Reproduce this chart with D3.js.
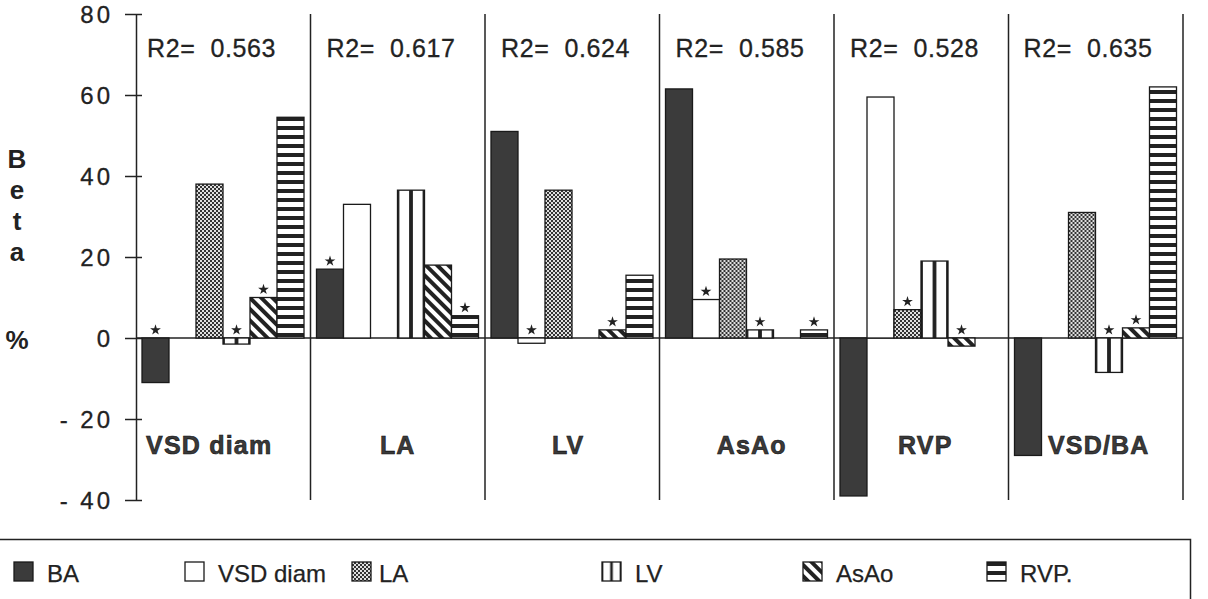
<!DOCTYPE html>
<html>
<head>
<meta charset="utf-8">
<script src="https://cdn.jsdelivr.net/npm/d3@7"></script>
<style>
  body { margin: 0; background: #fff; }
  svg { display: block; font-family: "Liberation Sans", Arial, sans-serif; }
</style>
</head>
<body>
<svg id="chart" width="1208" height="599"></svg>
<script>
// dependent variable of each regression (one panel each)
var groups = ["VSD diam", "LA", "LV", "AsAo", "RVP", "VSD/BA"];
var r2 = ["0.563", "0.617", "0.624", "0.585", "0.528", "0.635"];
// predictors (bars inside each panel)
var series = ["BA", "VSD diam", "LA", "LV", "AsAo", "RVP"];

// beta % per panel, in series order; null = not in the model
var betaVSDdiam = [-11, null, 38, -1.5, 10, 54.5];
var betaLA      = [17, 33, null, 36.5, 18, 5.5];
var betaLV      = [51, -1.3, 36.5, null, 2, 15.5];
var betaAsAo    = [61.5, 9.5, 19.5, 2, null, 2];
var betaRVP     = [-39, 59.5, 7, 19, -2, null];
var betaVSDBA   = [-29, null, 31, -8.5, 2.5, 62];
var betas = [betaVSDdiam, betaLA, betaLV, betaAsAo, betaRVP, betaVSDBA];

// starred coefficients, in series order
var starVSDdiam = [1, 0, 0, 1, 1, 0];
var starLA      = [1, 0, 0, 0, 0, 1];
var starLV      = [0, 1, 0, 0, 1, 0];
var starAsAo    = [0, 1, 0, 1, 0, 1];
var starRVP     = [0, 0, 1, 0, 1, 0];
var starVSDBA   = [0, 0, 0, 1, 1, 0];
var stars = [starVSDdiam, starLA, starLV, starAsAo, starRVP, starVSDBA];

var yTicks = [80, 60, 40, 20, 0, -20, -40];

// layout
var labelShift = [-14, 0, -4, 5, 4, 3];
var r2Left = [11, 16, 16, 16, 16, 15];
var svg = d3.select("#chart");

var y = d3.scaleLinear().domain([-40, 80]).range([500, 14]);
var x = d3.scaleBand().domain(groups).range([136, 1183]);
var xs = d3.scaleBand().domain(series).range([6, 168]);

var fills = {
  "BA": "#3b3b3b",
  "VSD diam": "#fff",
  "LA": "url(#pLA)",
  "LV": "url(#pLV)",
  "AsAo": "url(#pAsAo)",
  "RVP": "url(#pRVP)"
};

var defs = svg.append("defs");
var p = defs.append("pattern").attr("id", "pLA").attr("patternUnits", "userSpaceOnUse")
  .attr("width", 4).attr("height", 4);
p.append("rect").attr("width", 4).attr("height", 4).attr("fill", "#333");
p.append("rect").attr("width", 2).attr("height", 2).attr("fill", "#e0e0e0");
p.append("rect").attr("x", 2).attr("y", 2).attr("width", 2).attr("height", 2).attr("fill", "#e0e0e0");

// vertical stripes: edges + one in the middle of each bar
p = defs.append("pattern").attr("id", "pLV").attr("patternUnits", "objectBoundingBox")
  .attr("patternContentUnits", "objectBoundingBox").attr("width", 0.5).attr("height", 1);
p.append("rect").attr("width", 0.5).attr("height", 1).attr("fill", "#fff");
p.append("rect").attr("width", 0.07).attr("height", 1).attr("fill", "#222");
p.append("rect").attr("x", 0.43).attr("width", 0.07).attr("height", 1).attr("fill", "#222");

p = defs.append("pattern").attr("id", "pAsAo").attr("patternUnits", "userSpaceOnUse")
  .attr("width", 8).attr("height", 8).attr("patternTransform", "rotate(45)");
p.append("rect").attr("width", 8).attr("height", 8).attr("fill", "#fff");
p.append("rect").attr("width", 8).attr("height", 4).attr("fill", "#222");

p = defs.append("pattern").attr("id", "pRVP").attr("patternUnits", "userSpaceOnUse")
  .attr("width", 8).attr("height", 9);
p.append("rect").attr("width", 8).attr("height", 9).attr("fill", "#fff");
p.append("rect").attr("width", 8).attr("height", 4).attr("fill", "#222");

// y axis
var yAxis = d3.axisLeft(y).tickValues(yTicks).tickSize(0).tickPadding(0);
var ga = svg.append("g").attr("transform", "translate(136,0)").call(yAxis);
ga.select(".domain").attr("stroke", "#222").attr("stroke-width", 1.5);
ga.selectAll(".tick line").attr("x1", -11).attr("x2", 6).attr("stroke", "#222").attr("stroke-width", 1.5);
ga.selectAll(".tick text").attr("x", -23).attr("dy", "0.36em")
  .attr("font-size", 24).attr("fill", "#222").attr("letter-spacing", 3)
  .attr("stroke", "#222").attr("stroke-width", 0.3)
  .attr("font-family", "Liberation Sans, Arial, sans-serif")
  .text(function(d){ return d < 0 ? "- " + Math.abs(d) : d; });

// y title, stacked letters
var titleLetters = ["B", "e", "t", "a", "", "%"];
svg.append("g").selectAll("text").data(titleLetters).join("text")
  .attr("x", 17).attr("y", function(d, i){ return 159 + i * 31 + (i == 5 ? 26 : 0); })
  .attr("dy", "0.36em").attr("text-anchor", "middle")
  .attr("font-size", 26).attr("font-weight", "bold").attr("fill", "#222")
  .text(function(d){ return d; });

// panel dividers
svg.append("g").selectAll("line").data(groups).join("line")
  .attr("x1", function(d){ return x(d) + x.bandwidth(); })
  .attr("x2", function(d){ return x(d) + x.bandwidth(); })
  .attr("y1", y(80)).attr("y2", y(-40))
  .attr("stroke", "#222").attr("stroke-width", 1.5);

// zero line
svg.append("line").attr("x1", 136).attr("x2", 1183).attr("y1", y(0)).attr("y2", y(0))
  .attr("stroke", "#222").attr("stroke-width", 1.3);

var panel = svg.append("g").selectAll("g").data(groups).join("g")
  .attr("transform", function(d){ return "translate(" + x(d) + ",0)"; });

panel.append("text")
  .attr("x", function(d, i){ return r2Left[i]; }).attr("y", 48).attr("dy", "0.36em")
  .attr("font-size", 25).attr("fill", "#222").attr("letter-spacing", 0.6)
  .attr("stroke", "#222").attr("stroke-width", 0.3)
  .text(function(d, i){ return "R2=\u00a0 " + r2[i]; });

panel.append("text")
  .attr("x", function(d, i){ return x.bandwidth() / 2 + labelShift[i]; })
  .attr("y", 445).attr("dy", "0.36em").attr("text-anchor", "middle")
  .attr("font-size", 25).attr("font-weight", "bold").attr("fill", "#3a3a3a")
  .attr("letter-spacing", 1.2)
  .attr("stroke", "#111").attr("stroke-width", 0.6)
  .text(function(d){ return d; });

panel.each(function(g, gi){
  var rows = series.map(function(s, si){ return { s: s, v: betas[gi][si], star: stars[gi][si] }; })
    .filter(function(r){ return r.v !== null; });
  var sel = d3.select(this);
  sel.selectAll("rect.bar").data(rows).join("rect").attr("class", "bar")
    .attr("x", function(r){ return xs(r.s); })
    .attr("width", xs.bandwidth())
    .attr("y", function(r){ return y(Math.max(0, r.v)); })
    .attr("height", function(r){ return Math.abs(y(r.v) - y(0)); })
    .attr("fill", function(r){ return fills[r.s]; })
    .attr("stroke", "#1a1a1a").attr("stroke-width", 1.3);
  sel.selectAll("path.star").data(rows.filter(function(r){ return r.star; })).join("path").attr("class", "star")
    .attr("d", d3.symbol().type(d3.symbolStar).size(36))
    .attr("transform", function(r){
      return "translate(" + (xs(r.s) + xs.bandwidth() / 2) + "," + (y(Math.max(0, r.v)) - 8) + ")";
    })
    .attr("fill", "#222");
});

// legend
svg.append("path").attr("d", "M0,539.5H1190.5V599").attr("fill", "none")
  .attr("stroke", "#222").attr("stroke-width", 1.5);
var legX = [14, 185, 352, 602, 803, 987];
var leg = svg.append("g").selectAll("g").data(series).join("g")
  .attr("transform", function(d, i){ return "translate(" + legX[i] + ",562)"; });
leg.append("rect").attr("width", 19).attr("height", 19)
  .attr("fill", function(d){ return fills[d]; })
  .attr("stroke", "#1a1a1a").attr("stroke-width", 1.3);
leg.append("text").attr("x", function(d, i){ return i == 2 ? 27 : 33; }).attr("y", 11).attr("dy", "0.36em")
  .attr("font-size", 24).attr("fill", "#222")
  .attr("stroke", "#222").attr("stroke-width", 0.25)
  .text(function(d){ return d == "RVP" ? "RVP." : d; });
</script>
</body>
</html>
